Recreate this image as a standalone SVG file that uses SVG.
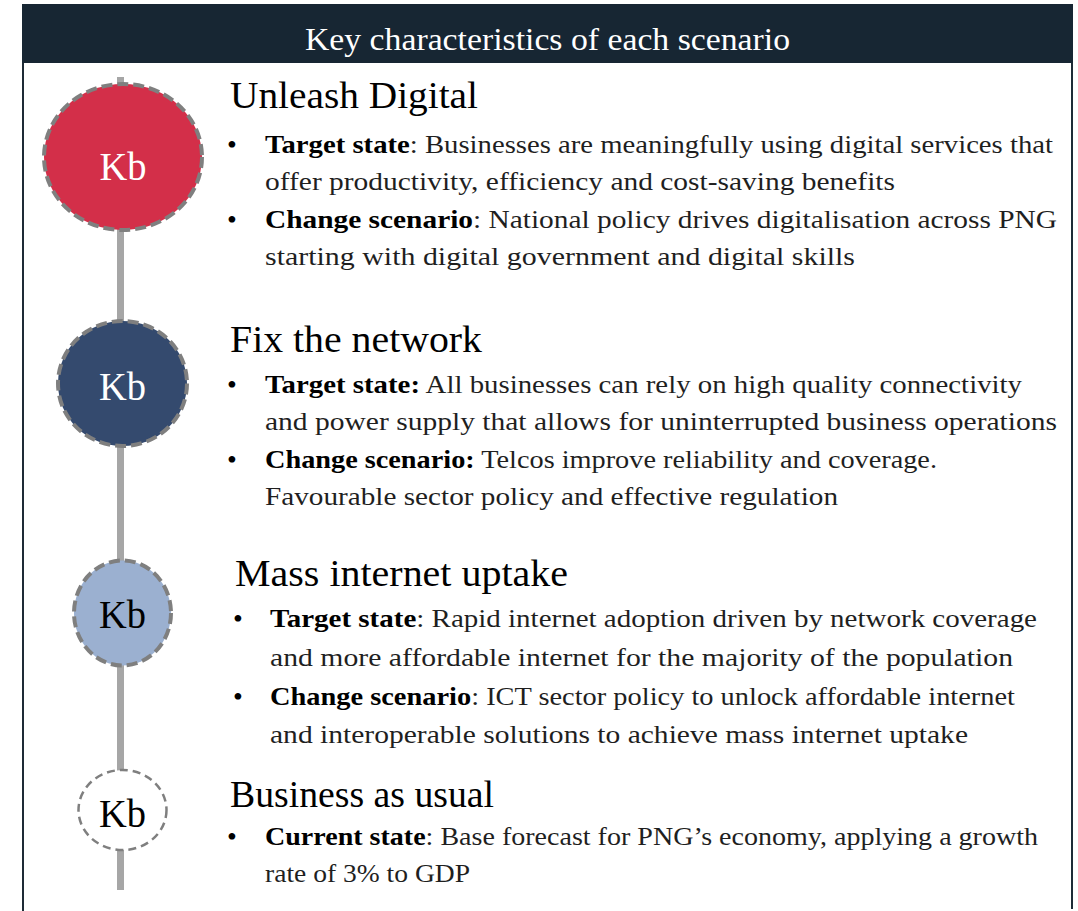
<svg xmlns="http://www.w3.org/2000/svg" width="1078" height="911" viewBox="0 0 1078 911">
<style>
text{font-family:"Liberation Serif","Times New Roman",serif;}
.hdr{fill:#ffffff;font-size:32px;}
.ttl{fill:#000000;font-size:37px;}
.body{fill:#1f1f1f;font-size:26px;}
.b{font-weight:bold;fill:#000;}
.bul{fill:#000;font-size:28px;}
.kb{font-size:40px;text-anchor:middle;}
.ring{stroke:#7f7f7f;stroke-width:4;stroke-dasharray:11 5;}
.ring2{stroke:#7f7f7f;stroke-width:2.5;stroke-dasharray:8 5;}
</style>
<rect x="0" y="0" width="1078" height="911" fill="#ffffff"/>
<rect x="22" y="4" width="1051" height="59" fill="#172633"/>
<line x1="23" y1="63" x2="23" y2="911" stroke="#1e2b36" stroke-width="2"/>
<line x1="1072" y1="63" x2="1072" y2="909" stroke="#1e2b36" stroke-width="2"/>
<text class="hdr" x="305" y="50" textLength="485" lengthAdjust="spacingAndGlyphs">Key characteristics of each scenario</text>

<g id="connectors">
<line x1="120.5" y1="77" x2="120.5" y2="890" stroke="#a6a6a6" stroke-width="7"/>
</g>

<g id="unleash-digital">
<ellipse class="ring" cx="123" cy="157" rx="79" ry="73" fill="#d32f49"/>
<text class="kb" x="123" y="180" fill="#ffffff" textLength="47" lengthAdjust="spacingAndGlyphs">Kb</text>
<text class="ttl" x="230" y="108" textLength="248" lengthAdjust="spacingAndGlyphs">Unleash Digital</text>
<text class="bul" x="227" y="154">•</text>
<text class="body" x="265" y="153" textLength="788" lengthAdjust="spacingAndGlyphs"><tspan class="b">Target state</tspan>: Businesses are meaningfully using digital services that</text>
<text class="body" x="265" y="190" textLength="630" lengthAdjust="spacingAndGlyphs">offer productivity, efficiency and cost-saving benefits</text>
<text class="bul" x="227" y="229">•</text>
<text class="body" x="265" y="228" textLength="792" lengthAdjust="spacingAndGlyphs"><tspan class="b">Change scenario</tspan>: National policy drives digitalisation across PNG</text>
<text class="body" x="265" y="265" textLength="590" lengthAdjust="spacingAndGlyphs">starting with digital government and digital skills</text>
</g>

<g id="fix-the-network">
<ellipse class="ring" cx="122.5" cy="383.5" rx="64.5" ry="62.5" fill="#344a6e"/>
<text class="kb" x="122.5" y="400" fill="#ffffff" textLength="47" lengthAdjust="spacingAndGlyphs">Kb</text>
<text class="ttl" x="230" y="352" textLength="252" lengthAdjust="spacingAndGlyphs">Fix the network</text>
<text class="bul" x="227" y="394">•</text>
<text class="body" x="265" y="393" textLength="757" lengthAdjust="spacingAndGlyphs"><tspan class="b">Target state:</tspan> All businesses can rely on high quality connectivity</text>
<text class="body" x="265" y="430" textLength="792" lengthAdjust="spacingAndGlyphs">and power supply that allows for uninterrupted business operations</text>
<text class="bul" x="227" y="469">•</text>
<text class="body" x="265" y="468" textLength="672" lengthAdjust="spacingAndGlyphs"><tspan class="b">Change scenario:</tspan> Telcos improve reliability and coverage.</text>
<text class="body" x="265" y="505" textLength="573" lengthAdjust="spacingAndGlyphs">Favourable sector policy and effective regulation</text>
</g>

<g id="mass-internet-uptake">
<ellipse class="ring" cx="122.5" cy="613" rx="48.5" ry="52.5" fill="#9bb0d0"/>
<text class="kb" x="122.5" y="628" fill="#000000" textLength="47" lengthAdjust="spacingAndGlyphs">Kb</text>
<text class="ttl" x="235" y="586" textLength="333" lengthAdjust="spacingAndGlyphs">Mass internet uptake</text>
<text class="bul" x="233" y="628">•</text>
<text class="body" x="270" y="627" textLength="767" lengthAdjust="spacingAndGlyphs"><tspan class="b">Target state</tspan>: Rapid internet adoption driven by network coverage</text>
<text class="body" x="270" y="666" textLength="743" lengthAdjust="spacingAndGlyphs">and more affordable internet for the majority of the population</text>
<text class="bul" x="233" y="706">•</text>
<text class="body" x="270" y="705" textLength="745" lengthAdjust="spacingAndGlyphs"><tspan class="b">Change scenario</tspan>: ICT sector policy to unlock affordable internet</text>
<text class="body" x="270" y="743" textLength="698" lengthAdjust="spacingAndGlyphs">and interoperable solutions to achieve mass internet uptake</text>
</g>

<g id="business-as-usual">
<ellipse class="ring2" cx="122.5" cy="810" rx="44" ry="40" fill="#ffffff"/>
<text class="kb" x="122.5" y="827" fill="#000000" textLength="47" lengthAdjust="spacingAndGlyphs">Kb</text>
<text class="ttl" x="230" y="807" textLength="264" lengthAdjust="spacingAndGlyphs">Business as usual</text>
<text class="bul" x="227" y="846">•</text>
<text class="body" x="265" y="845" textLength="773" lengthAdjust="spacingAndGlyphs"><tspan class="b">Current state</tspan>: Base forecast for PNG’s economy, applying a growth</text>
<text class="body" x="265" y="882" textLength="205" lengthAdjust="spacingAndGlyphs">rate of 3% to GDP</text>
</g>
</svg>
